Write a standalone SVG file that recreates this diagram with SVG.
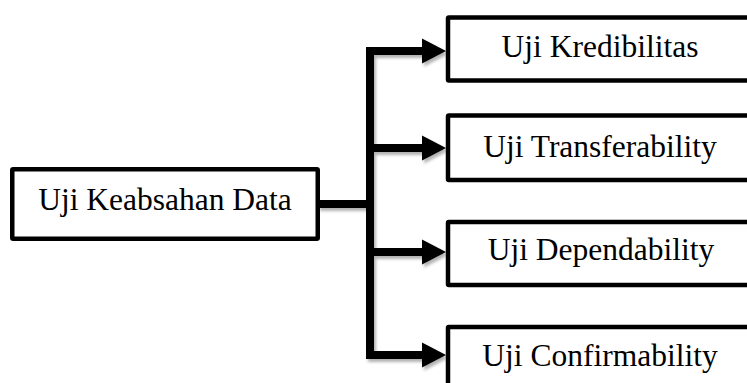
<svg xmlns="http://www.w3.org/2000/svg" width="747" height="383" viewBox="0 0 747 383">
  <defs>
    <style>
      .box { fill: #ffffff; stroke: #000000; stroke-width: 4.5; }
      .label { font-family: "Liberation Serif", "Times New Roman", serif; font-size: 31.5px; fill: #000000; text-anchor: middle; }
      .wire { fill: none; stroke: #000000; stroke-width: 8; stroke-linejoin: miter; stroke-linecap: butt; }
      .head { fill: #000000; }
    </style>
    <filter id="softShadow" x="-10%" y="-10%" width="130%" height="130%">
      <feDropShadow dx="2" dy="3" stdDeviation="1.8" flood-color="#000000" flood-opacity="0.3"/>
    </filter>
  </defs>
  <rect width="747" height="383" fill="#ffffff"/>

  <!-- connectors: stub from the root box, vertical trunk, four arrowed branches -->
  <g id="connectors" filter="url(#softShadow)">
    <path class="wire" d="M318 204 H370"/>
    <path class="wire" d="M370 47 V359"/>
    <path class="wire" d="M366 51 H424"/>
    <path class="wire" d="M370 148 H424"/>
    <path class="wire" d="M370 252 H424"/>
    <path class="wire" d="M366 355 H424"/>
    <polygon class="head" points="422,38.5 446,51 422,63.5"/>
    <polygon class="head" points="422,135.5 446,148 422,160.5"/>
    <polygon class="head" points="422,239.5 446,252 422,264.5"/>
    <polygon class="head" points="422,342.5 446,355 422,367.5"/>
  </g>

  <g id="node-root">
    <rect class="box" x="12.25" y="169.25" width="305.5" height="69.5" rx="1"/>
    <text class="label" x="165" y="210">Uji Keabsahan Data</text>
  </g>

  <g id="node-kredibilitas">
    <rect class="box" x="448" y="17.5" width="320" height="63" rx="1"/>
    <text class="label" x="600" y="57">Uji Kredibilitas</text>
  </g>

  <g id="node-transferability">
    <rect class="box" x="448" y="115.5" width="320" height="64.5" rx="1"/>
    <text class="label" x="600" y="157">Uji Transferability</text>
  </g>

  <g id="node-dependability">
    <rect class="box" x="448" y="222" width="320" height="63" rx="1"/>
    <text class="label" x="601" y="260">Uji Dependability</text>
  </g>

  <g id="node-confirmability">
    <rect class="box" x="448" y="327" width="320" height="80" rx="1"/>
    <text class="label" x="600" y="366">Uji Confirmability</text>
  </g>
</svg>
